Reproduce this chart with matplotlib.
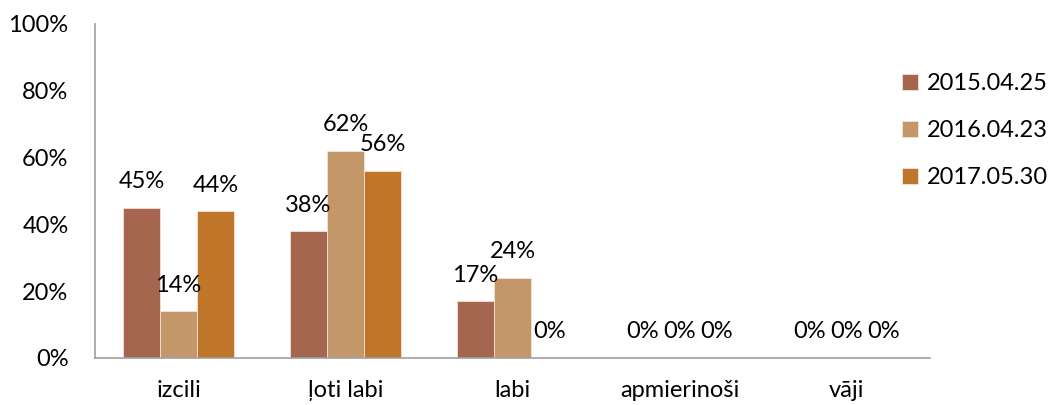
import matplotlib
matplotlib.use("Agg")
import matplotlib.pyplot as plt
import numpy as np

categories = ["izcili", "ļoti labi", "labi", "apmierinoši", "vāji"]
series_names = ["2015.04.25", "2016.04.23", "2017.05.30"]
s2015 = [0.45, 0.38, 0.17, 0.0, 0.0]
s2016 = [0.14, 0.62, 0.24, 0.0, 0.0]
s2017 = [0.44, 0.56, 0.0, 0.0, 0.0]
colors = ["#A5654E", "#C4976B", "#C0762A"]
yticks = [0, 0.2, 0.4, 0.6, 0.8, 1.0]

FS = 17
plt.rcParams['font.family'] = ['Lato', 'DejaVu Sans']
fig = plt.figure(figsize=(10.51, 4.05), dpi=100)
ax = fig.add_axes([95/1051, 47/405, 835/1051, 334/405])

x = np.arange(len(categories))
w = 0.222
for i, (vals, name, c) in enumerate(zip([s2015, s2016, s2017], series_names, colors)):
    pos = x + (i - 1) * w
    ax.bar(pos, vals, width=w, color=c, edgecolor="#F3E3D6", linewidth=0.6, label=name)
    for px, v in zip(pos, vals):
        ax.annotate(f"{v*100:.0f}%", (px, v), xytext=(0, 26), textcoords="offset pixels",
                    ha="center", va="center", fontsize=FS)

ax.set_xlim(-0.5, len(categories) - 0.5)
ax.set_ylim(0, 1.0)
ax.set_yticks(yticks)
ax.set_yticklabels([f"{t*100:.0f}%" for t in yticks], fontsize=FS)
ax.set_xticks(x)
ax.set_xticklabels(categories, fontsize=FS)
ax.tick_params(axis="x", length=0, pad=16)
ax.tick_params(axis="y", length=0, pad=19)
for s in ["top", "right"]:
    ax.spines[s].set_visible(False)
for s in ["left", "bottom"]:
    ax.spines[s].set_color("#A0A0A0")
    ax.spines[s].set_linewidth(1.2)

leg = fig.legend(loc="upper left", bbox_to_anchor=(893/1051, 1 - 64/405), frameon=False,
                 fontsize=FS, handlelength=0.65, handleheight=0.65, labelspacing=1.09,
                 handletextpad=0.4, borderaxespad=0)
fig.savefig("out.png", dpi=100)
